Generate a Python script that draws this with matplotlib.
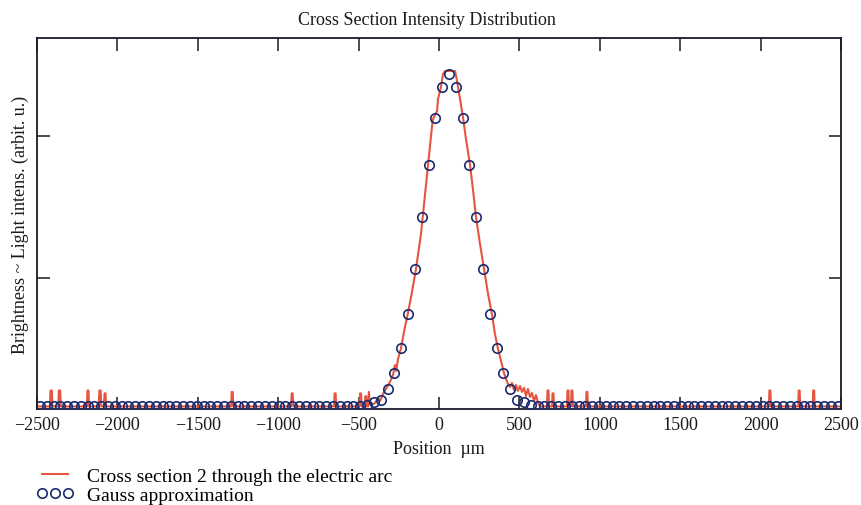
import matplotlib
matplotlib.use("Agg")
import matplotlib.pyplot as plt

plt.rcParams['font.family'] = ['Liberation Serif', 'DejaVu Serif']
plt.rcParams['mathtext.fontset'] = 'stix'

TITLE = "Cross Section Intensity Distribution"
XLABEL = "Position  \u00b5m"
YLABEL = "Brightness ~ Light intens. (arbit. u.)"
LABEL_RED = "Cross section 2 through the electric arc"
LABEL_GAUSS = "Gauss approximation"

X_TICKS = [-2500, -2000, -1500, -1000, -500, 0, 500, 1000, 1500, 2000, 2500]
Y_TICKS = [1, 2]

RED_X = [-2500, -2420, -2416, -2408, -2404, -2368, -2364, -2356, -2352,
         -2190, -2186, -2180, -2176, -2116, -2112, -2104, -2100,
         -2084, -2080, -2074, -2070, -1293, -1289, -1283, -1279,
         -920, -916, -910, -906, -653, -649, -643, -639,
         -495, -491, -485, -481, -462, -458, -452, -448,
         -440, -436, -430, -420, -398, -379, -367, -348, -330, -305, -286,
         -274, -267, -255, -236, -218, -193, -168, -143, -112, -93, -68,
         -50, -44, -37, -25, -12, -6, 12, 25, 37, 100, 112, 131, 149, 168,
         193, 211, 230, 255, 280, 305, 330, 348, 367, 386,
         404, 417, 429, 442, 454, 466, 479, 491, 504, 516, 529, 541, 553,
         566, 578, 591, 603, 616, 628,
         672, 675, 681, 684, 703, 706, 712, 715, 796, 799, 805, 808,
         821, 824, 830, 833, 914, 917, 923, 926,
         2052, 2055, 2061, 2064, 2234, 2237, 2243, 2246,
         2324, 2327, 2333, 2336, 2500]
RED_Y = [0.098, 0.098, 0.21, 0.21, 0.098, 0.098, 0.21, 0.21, 0.098,
         0.098, 0.21, 0.21, 0.098, 0.098, 0.21, 0.21, 0.098,
         0.098, 0.19, 0.19, 0.098, 0.098, 0.20, 0.20, 0.098,
         0.098, 0.19, 0.19, 0.098, 0.098, 0.19, 0.19, 0.098,
         0.098, 0.19, 0.19, 0.098, 0.098, 0.17, 0.17, 0.098,
         0.098, 0.20, 0.12, 0.11, 0.122, 0.157, 0.136, 0.186, 0.221, 0.270, 0.319,
         0.389, 0.347, 0.431, 0.509, 0.621, 0.755, 0.902, 1.064, 1.310, 1.521, 1.795,
         1.999, 2.061, 2.117, 2.145, 2.174, 2.258, 2.342, 2.434, 2.455, 2.455, 2.385,
         2.258, 2.131, 1.977,
         1.795, 1.626, 1.429, 1.240, 1.064, 0.888, 0.741, 0.607, 0.502, 0.417,
         0.333, 0.291, 0.256, 0.235, 0.263, 0.214, 0.249, 0.207, 0.242, 0.200,
         0.228, 0.171, 0.221, 0.164, 0.193, 0.136, 0.178, 0.122, 0.098,
         0.098, 0.21, 0.21, 0.098, 0.098, 0.19, 0.19, 0.098, 0.098, 0.21, 0.21, 0.098,
         0.098, 0.21, 0.21, 0.098, 0.098, 0.20, 0.20, 0.098,
         0.098, 0.21, 0.21, 0.098, 0.098, 0.21, 0.21, 0.098,
         0.098, 0.21, 0.21, 0.098, 0.098]

# Gauss approximation points
GAUSS_X = [-2482, -2440, -2397, -2355, -2312, -2270, -2228, -2185, -2143, -2100,
           -2058, -2016, -1973, -1931, -1888, -1846, -1804, -1761, -1719, -1676,
           -1634, -1592, -1549, -1507, -1464, -1422, -1380, -1337, -1295, -1252,
           -1210, -1168, -1125, -1083, -1040, -998, -956, -913, -871, -828,
           -786, -744, -701, -659, -616, -574, -532, -489, -447, -404,
           -362, -320, -277, -235, -192, -150, -108, -65, -23, 20,
           62, 104, 147, 189, 232, 274, 316, 359, 401, 444,
           486, 528, 571, 613, 656, 698, 740, 783, 825, 868,
           910, 952, 995, 1037, 1080, 1122, 1164, 1207, 1249, 1292,
           1334, 1376, 1419, 1461, 1504, 1546, 1588, 1631, 1673, 1716,
           1758, 1800, 1843, 1885, 1928, 1970, 2012, 2055, 2097, 2140,
           2182, 2224, 2267, 2309, 2352, 2394, 2436, 2479]
GAUSS_Y = ([0.10] * 47 +
           [0.102, 0.108, 0.126, 0.145, 0.221, 0.333, 0.509, 0.748, 1.062,
            1.431, 1.797, 2.125, 2.345, 2.434, 2.345, 2.125, 1.797, 1.431,
            1.062, 0.748, 0.509, 0.333, 0.221, 0.145, 0.126, 0.108, 0.102] +
           [0.10] * 44)

fig = plt.figure(figsize=(8.62, 5.06), dpi=100)
ax = fig.add_axes([37 / 862, 1 - 410 / 506, (841 - 37) / 862, (410 - 39) / 506])

ax.plot(RED_X, RED_Y, color='#e5553f', lw=1.5, label=LABEL_RED, zorder=2)
ax.plot(GAUSS_X, GAUSS_Y, linestyle='none', marker='o', markersize=6.8,
        markerfacecolor='none', markeredgecolor='#1c2a6e', markeredgewidth=1.2,
        label=LABEL_GAUSS, zorder=3)

ax.set_xlim(-2500, 2500)
ax.set_ylim(0.080, 2.687)
ax.set_xticks(X_TICKS)
ax.set_yticks(Y_TICKS)
ax.set_yticklabels([])
ax.tick_params(direction='in', length=9, width=1.1, top=True, right=True,
               labelsize=13, colors='#1a1a1a', pad=5)
for s in ax.spines.values():
    s.set_linewidth(1.3)
    s.set_color('#1a1a2a')

ax.set_title(TITLE, fontsize=13, pad=10, color='#1a1a1a', x=0.485)
ax.set_xlabel(XLABEL, fontsize=13, labelpad=5, color='#1a1a1a')
ax.set_ylabel(YLABEL, fontsize=13, labelpad=1, color='#1a1a1a')

ax.legend(loc='upper left', bbox_to_anchor=(36 / 862, 1 - 468 / 506),
          bbox_transform=fig.transFigure, frameon=False, fontsize=14,
          handlelength=1.95, handletextpad=0.65, labelspacing=0.08,
          borderpad=0, borderaxespad=0, numpoints=3)

fig.savefig('out.png', dpi=100)
